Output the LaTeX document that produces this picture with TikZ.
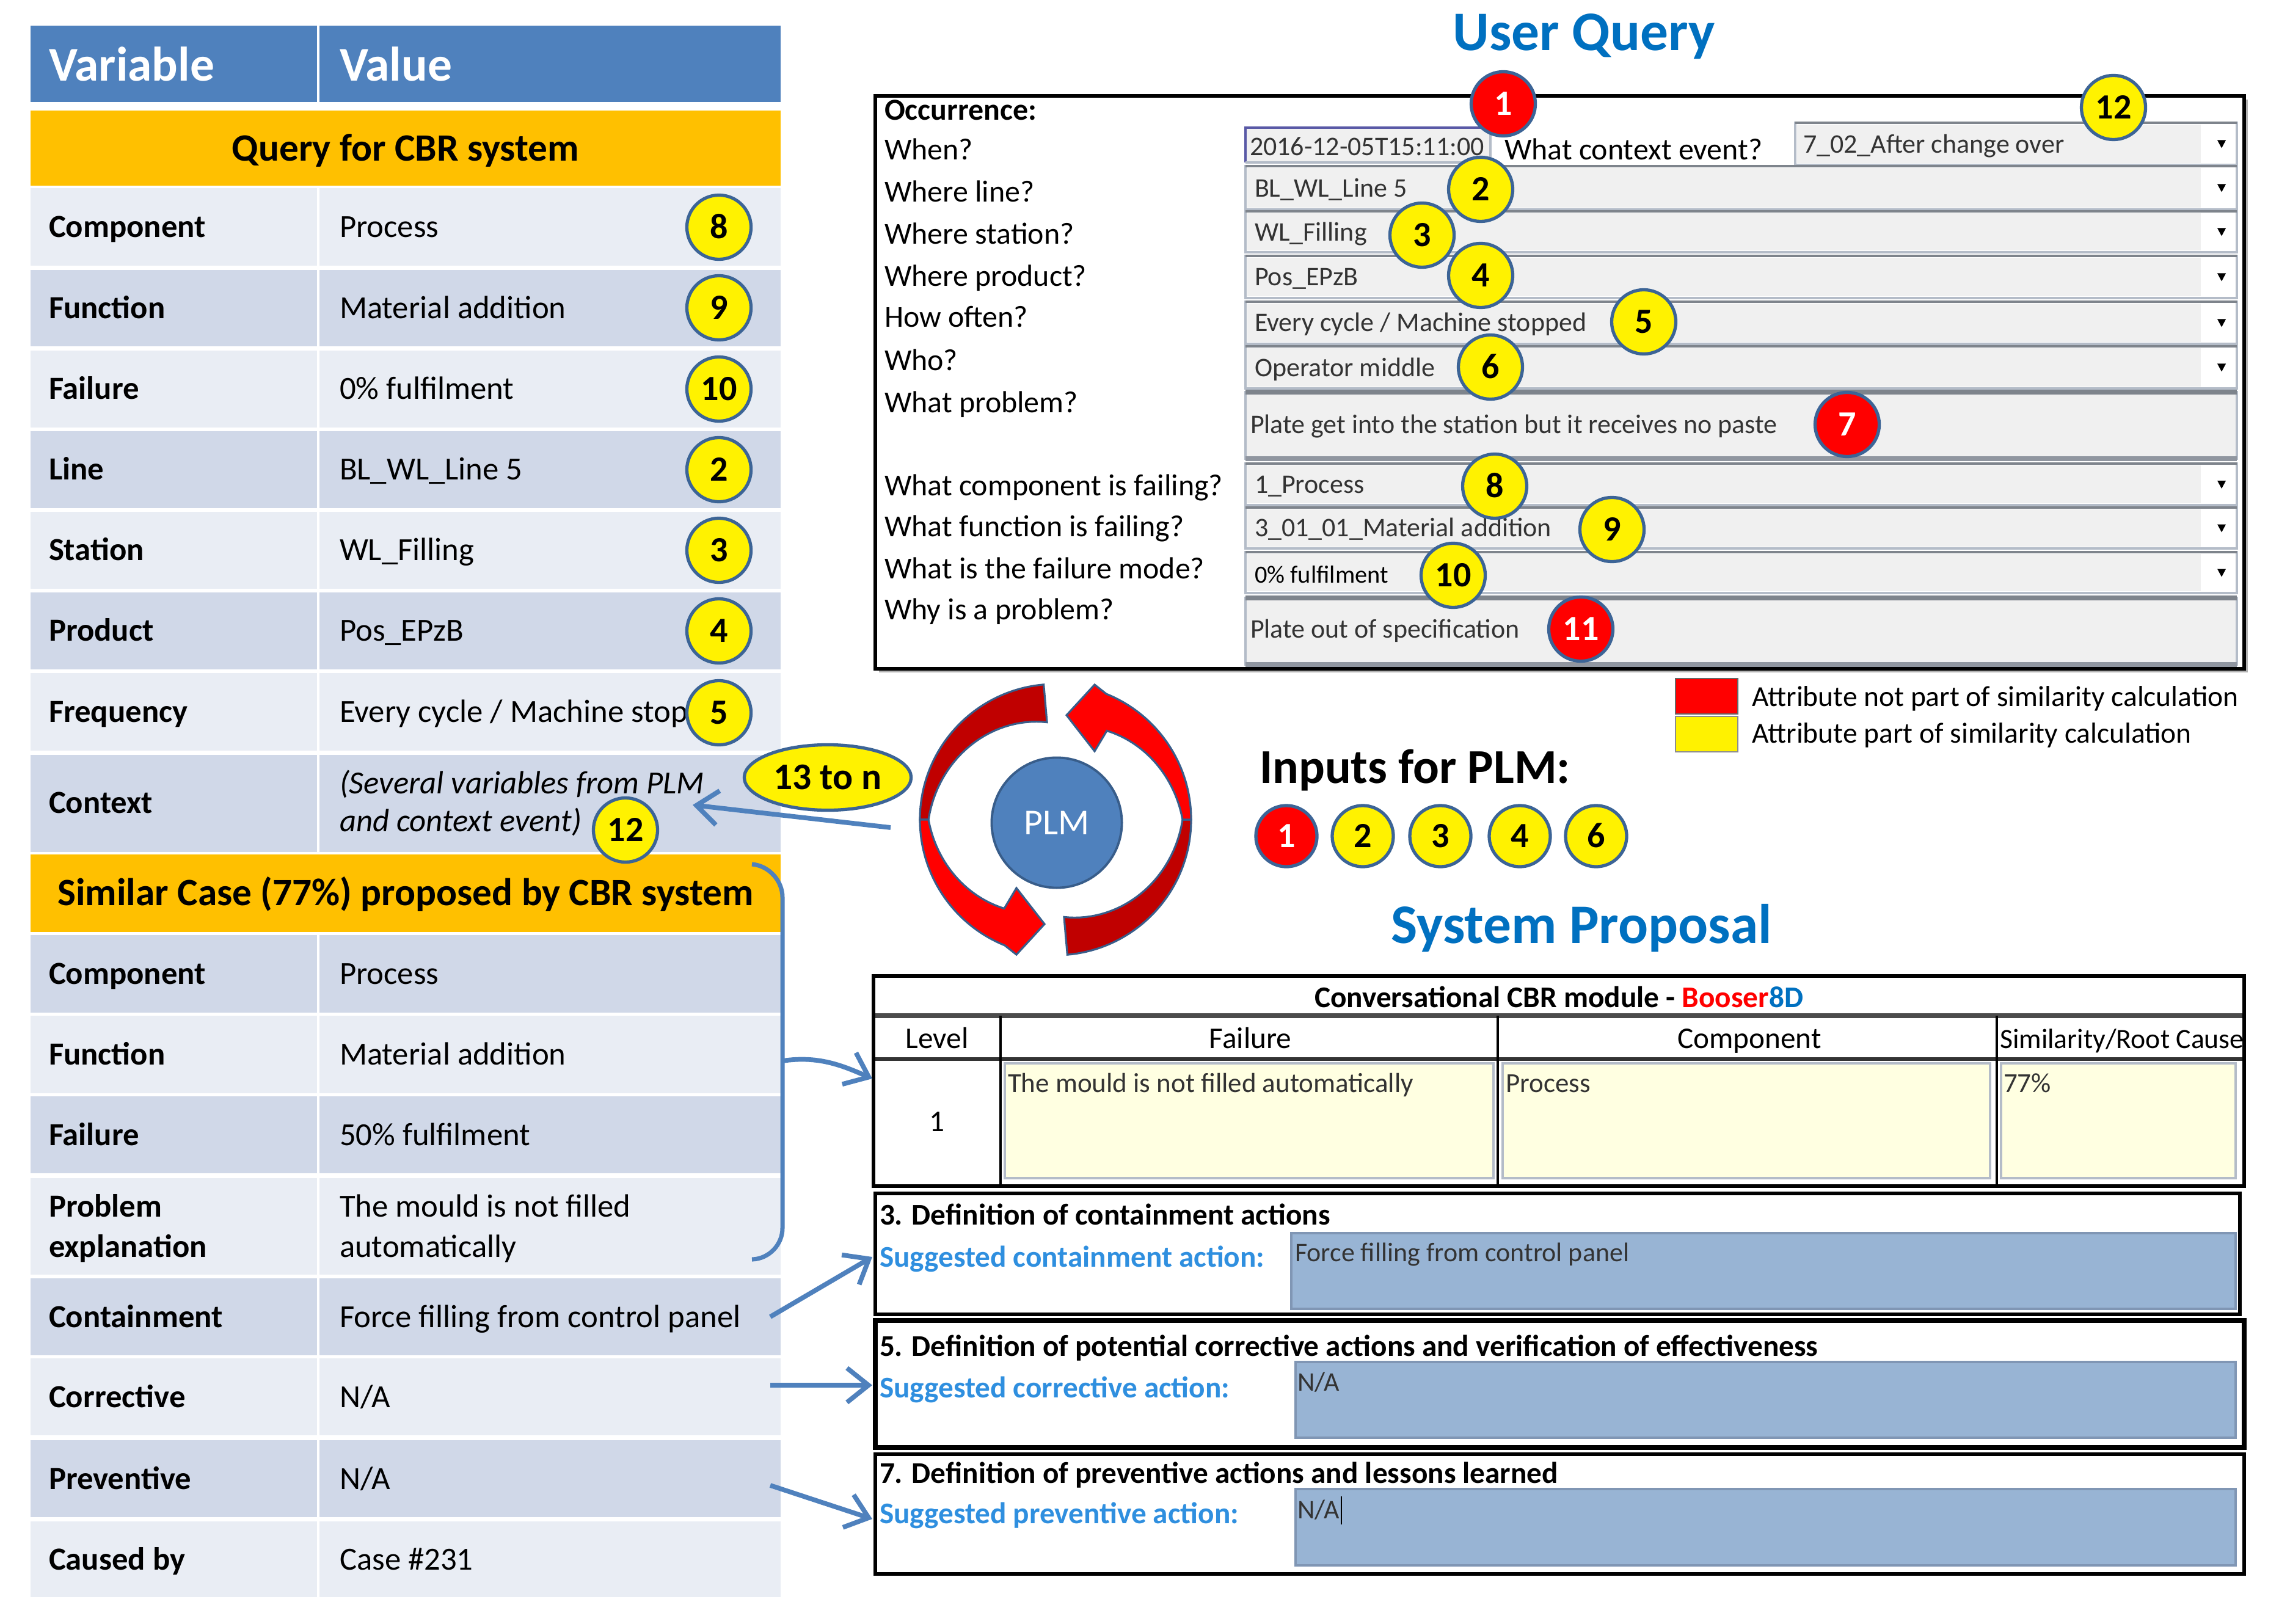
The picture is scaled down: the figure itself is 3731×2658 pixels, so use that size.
\documentclass[tikz,border=0pt]{standalone}
\usepackage{fontspec}
\setmainfont{Carlito}
\usetikzlibrary{arrows.meta,shapes.geometric}
\definecolor{hdrblue}{HTML}{4F81BD}
\definecolor{qorange}{HTML}{FFC000}
\definecolor{rowlight}{HTML}{E9EDF4}
\definecolor{rowdark}{HTML}{D0D8E8}
\definecolor{badgeedge}{HTML}{3C6496}
\definecolor{titleblue}{HTML}{0070C0}
\definecolor{labelblue}{HTML}{2F8FDF}
\definecolor{fieldgray}{HTML}{F0F0F0}
\definecolor{fieldedge}{HTML}{B4BCC8}
\definecolor{actfield}{HTML}{98B4D4}
\definecolor{actedge}{HTML}{8096B4}
\definecolor{cellyellow}{HTML}{FFFFE1}
\definecolor{darkred}{HTML}{C00000}
\definecolor{plmedge}{HTML}{385D8A}
\newcommand{\fsz}[1]{\fontsize{#1pt}{#1pt}\selectfont}
\newcommand{\trow}[6]{%
  \fill[#4] (50,#2) rectangle (519,#3);
  \fill[#4] (523,#2) rectangle (1278,#3);
  \node[lab] (#1l) at (80,{(#2+#3)/2}) {#5};
  \node[val] (#1v) at (556,{(#2+#3)/2}) {#6};}
\newcommand{\ddfield}[3]{%
  \fill[white] (#1,#2) rectangle (3662,#3);
  \fill[fieldgray] (#1+3,#2+3) rectangle (3603,#3-3);
  \draw[fieldedge, line width=1.2pt] (#1,#2) rectangle (3662,#3);
  \draw[fieldedge!70!black, line width=1.4pt] (#1,#2) -- (3662,#2);
  \fill[black] (3630,{(#2+#3)/2-6}) -- (3644,{(#2+#3)/2-6}) -- (3637,{(#2+#3)/2+7}) -- cycle;}
\newcommand{\tafield}[3]{%
  \fill[fieldgray] (#1,#2) rectangle (3662,#3);
  \draw[fieldedge, line width=1.2pt] (#1,#2) rectangle (3662,#3);
  \draw[fieldedge!70!black, line width=2pt] (#1,#2) -- (3662,#2);
  \draw[fieldedge!80!black, line width=2.2pt] (#1,#3) -- (3662,#3);}
\newcommand{\cyclearrow}{%
  \filldraw[fill=darkred, draw=plmedge, line width=0.9pt] (95:222) arc[start angle=95, end angle=180, radius=222] -- plot[domain=180:95, samples=30] (\x:{208-48*(180-\x)/85}) -- cycle;
  \filldraw[fill=red, draw=plmedge, line width=0.9pt] (180:222) arc[start angle=180, end angle=248, radius=222] -- (-64,-221) -- (-18,-171) -- (-64,-112) -- plot[domain=240:180, samples=30] (\x:{168+40*(240-\x)/60}) -- cycle;}
\begin{document}
\begin{tikzpicture}[x=0.01cm, y=-0.01cm, every node/.style={inner sep=0pt, outer sep=0pt},
  th/.style={text height=#1, text depth=0pt},
  lab/.style={anchor=west, font=\fsz{15}\bfseries, th=9.66pt},
  val/.style={anchor=west, font=\fsz{15}, th=9.66pt},
  ival/.style={anchor=west, font=\fsz{15}\itshape, th=9.66pt},
  hdr/.style={anchor=west, font=\fsz{22.6}\bfseries, text=white, th=14.55pt},
  band/.style={font=\fsz{18}\bfseries, th=11.6pt},
  badge/.style={circle, draw=badgeedge, line width=1.5pt, fill=yellow, minimum size=1.05cm, font=\fsz{16.5}\bfseries, th=10.6pt},
  rbadge/.style={badge, fill=red, text=white},
  qlab/.style={anchor=west, font=\fsz{14.2}, th=9.15pt},
  ftxt/.style={anchor=west, font=\fsz{12.5}, text=black!80, th=8.05pt},
  ttl/.style={font=\fsz{26}\bfseries, text=titleblue, th=16.7pt},
  sect/.style={anchor=west, font=\fsz{14}\bfseries, th=9pt},
  sugg/.style={anchor=west, font=\fsz{14}\bfseries, text=labelblue, th=9pt},
  thd/.style={font=\fsz{14}, th=9pt},
  legtxt/.style={anchor=west, font=\fsz{13.5}, th=8.7pt},
  barrow/.style={draw=hdrblue, line width=2.2pt, -{Straight Barb[length=10pt, width=16pt]}},
  bline/.style={draw=hdrblue, line width=2pt}]
\useasboundingbox (0,0) rectangle (3731,2658);
\fill[white] (0,0) rectangle (3731,2658);

% ---------------- left table ----------------
\fill[hdrblue] (50,42) rectangle (519,167);
\fill[hdrblue] (523,42) rectangle (1278,167);
\node[hdr] (hvar) at (80,107) {Variable};
\node[hdr] (hval) at (556,107) {Value};
\fill[qorange] (50,181) rectangle (1278,304);
\node[band] (qband) at (664,243) {Query for CBR system};
\trow{c1}{308}{435}{rowlight}{Component}{Process}
\trow{c2}{442}{567}{rowdark}{Function}{Material addition}
\trow{c3}{574}{700}{rowlight}{Failure}{0\% fulfilment}
\trow{c4}{706}{832}{rowdark}{Line}{BL\_WL\_Line 5}
\trow{c5}{838}{964}{rowlight}{Station}{WL\_Filling}
\trow{c6}{970}{1096}{rowdark}{Product}{Pos\_EPzB}
\trow{c7}{1102}{1229}{rowlight}{Frequency}{Every cycle / Machine stop}
\fill[rowdark] (50,1236) rectangle (519,1395);
\fill[rowdark] (523,1236) rectangle (1278,1395);
\node[lab] (c8l) at (80,1315) {Context};
\node[ival] (c8v1) at (556,1283) {(Several variables from PLM};
\node[ival] (c8v2) at (556,1345) {and context event)};
\fill[qorange] (50,1399) rectangle (1278,1526);
\node[band] (sband) at (664,1462) {Similar Case (77\%) proposed by CBR system};
\trow{s1}{1531}{1658}{rowdark}{Component}{Process}
\trow{s2}{1663}{1790}{rowlight}{Function}{Material addition}
\trow{s3}{1795}{1921}{rowdark}{Failure}{50\% fulfilment}
\fill[rowlight] (50,1929) rectangle (519,2087);
\fill[rowlight] (523,1929) rectangle (1278,2087);
\node[lab] (s4l1) at (80,1975) {Problem};
\node[lab] (s4l2) at (80,2041) {explanation};
\node[val] (s4v1) at (556,1975) {The mould is not filled};
\node[val] (s4v2) at (556,2041) {automatically};
\trow{s5}{2093}{2219}{rowdark}{Containment}{Force filling from control panel}
\trow{s6}{2224}{2350}{rowlight}{Corrective}{N/A}
\trow{s7}{2358}{2484}{rowdark}{Preventive}{N/A}
\trow{s8}{2491}{2615}{rowlight}{Caused by}{Case \#231}

\node[badge] (lb8) at (1177,372) {8};
\node[badge] (lb9) at (1177,504) {9};
\node[badge] (lb10) at (1177,637) {10};
\node[badge] (lb2) at (1177,769) {2};
\node[badge] (lb3) at (1177,901) {3};
\node[badge] (lb4) at (1177,1033) {4};
\node[badge] (lb5) at (1177,1167) {5};
\node[badge] (lb12) at (1024,1359) {12};

% ---------------- user query ----------------
\node[ttl] (uq) at (2593,53) {User Query};
\fill[gray!60] (1439,163) rectangle (3680,1101);
\fill[white] (1433,157) rectangle (3674,1095);
\draw[black, line width=1.7pt] (1433,157) rectangle (3674,1095);

\node[qlab, font=\fsz{14.2}\bfseries] (qocc) at (1448,180) {Occurrence:};
\node[qlab] (qwhen) at (1448,245) {When?};
\node[qlab] (qline) at (1448,314) {Where line?};
\node[qlab] (qstat) at (1448,383) {Where station?};
\node[qlab] (qprod) at (1448,452) {Where product?};
\node[qlab] (qoften) at (1448,519) {How often?};
\node[qlab] (qwho) at (1448,590) {Who?};
\node[qlab] (qprob) at (1448,659) {What problem?};
\node[qlab] (qcomp) at (1448,795) {What component is failing?};
\node[qlab] (qfunc) at (1448,862) {What function is failing?};
\node[qlab] (qmode) at (1448,931) {What is the failure mode?};
\node[qlab] (qwhy) at (1448,998) {Why is a problem?};

% date field
\fill[fieldgray] (2039,209) rectangle (2440,266);
\draw[gray!70!blue, line width=1.2pt] (2039,266) -- (2039,209) -- (2440,209);
\draw[fieldedge, line width=1.2pt] (2440,209) -- (2440,266) -- (2039,266);
\begin{scope}
\clip (2041,209) rectangle (2438,266);
\node[ftxt] (fdate) at (2046,240) {2016-12-05T15:11:00};
\end{scope}
\node[qlab] (qctx) at (2463,245) {What context event?};
\ddfield{2939}{201}{270}
\node[ftxt] (fctx) at (2952,236) {7\_02\_After change over};
\ddfield{2039}{272}{343}
\node[ftxt] (fline) at (2054,308) {BL\_WL\_Line 5};
\ddfield{2039}{346}{413}
\node[ftxt] (fstat) at (2054,380) {WL\_Filling};
\ddfield{2039}{419}{488}
\node[ftxt] (fprod) at (2054,453) {Pos\_EPzB};
\ddfield{2039}{494}{563}
\node[ftxt] (foften) at (2054,528) {Every cycle / Machine stopped};
\ddfield{2039}{567}{636}
\node[ftxt] (fwho) at (2054,602) {Operator middle};
\tafield{2039}{642}{751}
\node[ftxt] (fprob) at (2047,695) {Plate get into the station but it receives no paste};
\ddfield{2039}{759}{827}
\node[ftxt] (fcomp) at (2054,793) {1\_Process};
\ddfield{2039}{831}{898}
\node[ftxt] (ffunc) at (2054,864) {3\_01\_01\_Material addition};
\ddfield{2039}{904}{971}
\node[ftxt, font=\fsz{11.5}, text=black] (fmode) at (2054,940) {0\% fulfilment};
\tafield{2039}{979}{1088}
\node[ftxt] (fwhy) at (2047,1030) {Plate out of specification};

\node[rbadge] (ub1) at (2461,170) {1};
\node[badge] (ub12) at (3460,176) {12};
\node[badge] (ub2) at (2424,310) {2};
\node[badge] (ub3) at (2328,385) {3};
\node[badge] (ub4) at (2424,451) {4};
\node[badge] (ub5) at (2691,527) {5};
\node[badge] (ub6) at (2440,601) {6};
\node[rbadge] (ub7) at (3024,695) {7};
\node[badge] (ub8) at (2447,796) {8};
\node[badge] (ub9) at (2639,867) {9};
\node[badge] (ub10) at (2379,942) {10};
\node[rbadge] (ub11) at (2588,1030) {11};

% legend
\filldraw[fill=red, draw=black!60, line width=0.8pt] (2743,1111) rectangle (2845,1169);
\filldraw[fill=yellow, draw=black!45, line width=0.8pt] (2743,1173) rectangle (2845,1231);
\node[legtxt] (leg1) at (2868,1141) {Attribute not part of similarity calculation};
\node[legtxt] (leg2) at (2868,1201) {Attribute part of similarity calculation};

% ---------------- PLM cycle ----------------
\begin{scope}[shift={(1728,1342)}, y=0.01cm]
\cyclearrow
\begin{scope}[rotate=180]
\cyclearrow
\end{scope}
\end{scope}
\node[circle, fill=hdrblue, draw=plmedge, line width=1.1pt, minimum size=2.13cm, text=white, font=\fsz{17}, th=10.95pt] (plm) at (1730,1347) {PLM};

\node[ellipse, draw=badgeedge, fill=yellow, line width=1.5pt, minimum width=2.73cm, minimum height=1.07cm, font=\fsz{17.5}\bfseries, th=11.3pt] (tton) at (1355,1273) {13 to n};
\coordinate (tnstart) at (1458,1355);
\coordinate (ctxend) at (1134,1318);
\draw[barrow] (tnstart) -- (ctxend);

\node[anchor=west, font=\fsz{22.7}\bfseries, th=14.6pt] (inplm) at (2062,1257) {Inputs for PLM:};
\node[rbadge, minimum size=1cm] (ib1) at (2106,1369) {1};
\node[badge, minimum size=1cm] (ib2) at (2231,1369) {2};
\node[badge, minimum size=1cm] (ib3) at (2358,1369) {3};
\node[badge, minimum size=1cm] (ib4) at (2488,1369) {4};
\node[badge, minimum size=1cm] (ib6) at (2613,1369) {6};

\node[ttl] (sp) at (2589,1515) {System Proposal};

% ---------------- CBR module ----------------
\fill[white] (1430,1598) rectangle (3674,1942);
\filldraw[fill=cellyellow, draw=fieldedge, line width=1.1pt] (1645,1741) rectangle (2445,1929);
\filldraw[fill=cellyellow, draw=fieldedge, line width=1.1pt] (2460,1741) rectangle (3258,1929);
\filldraw[fill=cellyellow, draw=fieldedge, line width=1.1pt] (3276,1741) rectangle (3660,1929);
\draw[gray!60!black, line width=2.2pt] (1430,1663) -- (3674,1663);
\draw[black!80, line width=1.7pt] (1430,1734) -- (3674,1734);
\foreach \cx in {1638,2452,3269} \draw[black, line width=0.9pt] (\cx,1663) -- (\cx,1942);
\draw[black, line width=1.9pt] (1430,1598) rectangle (3674,1942);
\node[font=\fsz{14}\bfseries, th=9pt] (cbrt) at (2552,1634) {Conversational CBR module - \textcolor{red}{Booser}\textcolor{titleblue}{8D}};
\node[thd] (hlev) at (1534,1701) {Level};
\node[thd] (hfail) at (2047,1701) {Failure};
\node[thd] (hcomp) at (2864,1701) {Component};
\begin{scope}
\clip (3270,1665) rectangle (3672,1732);
\node[thd, anchor=west, font=\fsz{13}] (hsim) at (3274,1701) {Similarity/Root Cause};
\end{scope}
\node[ftxt, font=\fsz{12.8}] (cfail) at (1650,1774) {The mould is not filled automatically};
\node[ftxt, font=\fsz{12.8}] (ccomp) at (2465,1774) {Process};
\node[ftxt, font=\fsz{12.8}] (csim) at (3280,1774) {77\%};
\node[thd] (clev) at (1534,1837) {1};

% ---------------- action sections ----------------
\draw[black, line width=1.9pt] (1433,1954) rectangle (3667,2152);
\node[sect] (s3t) at (1440,1990) {3. Definition of containment actions};
\node[sugg] (s3l) at (1440,2059) {Suggested containment action:};
\filldraw[fill=actfield, draw=actedge, line width=1.1pt] (2114,2019) rectangle (3660,2143);
\node[ftxt] (s3f) at (2120,2051) {Force filling from control panel};

\draw[black, line width=2.1pt] (1433,2162) rectangle (3674,2370);
\node[sect] (s5t) at (1440,2205) {5. Definition of potential corrective actions and verification of effectiveness};
\node[sugg] (s5l) at (1440,2273) {Suggested corrective action:};
\filldraw[fill=actfield, draw=actedge, line width=1.1pt] (2121,2230) rectangle (3660,2354);
\node[ftxt] (s5f) at (2124,2263) {N/A};

\draw[black, line width=1.9pt] (1433,2381) rectangle (3674,2577);
\node[sect] (s7t) at (1440,2413) {7. Definition of preventive actions and lessons learned};
\node[sugg] (s7l) at (1440,2479) {Suggested preventive action:};
\filldraw[fill=actfield, draw=actedge, line width=1.1pt] (2121,2438) rectangle (3660,2563);
\node[ftxt] (s7f) at (2124,2472) {N/A};
\draw[black, line width=0.6pt] (s7f.east) ++(3,-22) -- ++(0,46);

% ---------------- connectors ----------------
\coordinate (brA) at (1231,1415);
\coordinate (brB) at (1281,1420);
\coordinate (brC) at (1281,2060);
\coordinate (brD) at (1231,2062);
\draw[bline, rounded corners=14] (brA) -- (brB) -- (brC) -- (brD);
\coordinate (brM) at (1281,1737);
\coordinate (cbrin) at (1428,1766);
\draw[barrow] (brM) .. controls (1340,1728) and (1380,1745) .. (cbrin);
\coordinate (contA) at (1261,2156);
\coordinate (contB) at (1428,2058);
\draw[barrow] (contA) -- (contB);
\coordinate (corrA) at (1261,2268);
\coordinate (corrB) at (1428,2268);
\draw[barrow] (corrA) -- (corrB);
\coordinate (prevA) at (1261,2432);
\coordinate (prevB) at (1428,2487);
\draw[barrow] (prevA) -- (prevB);
\end{tikzpicture}
\end{document}
